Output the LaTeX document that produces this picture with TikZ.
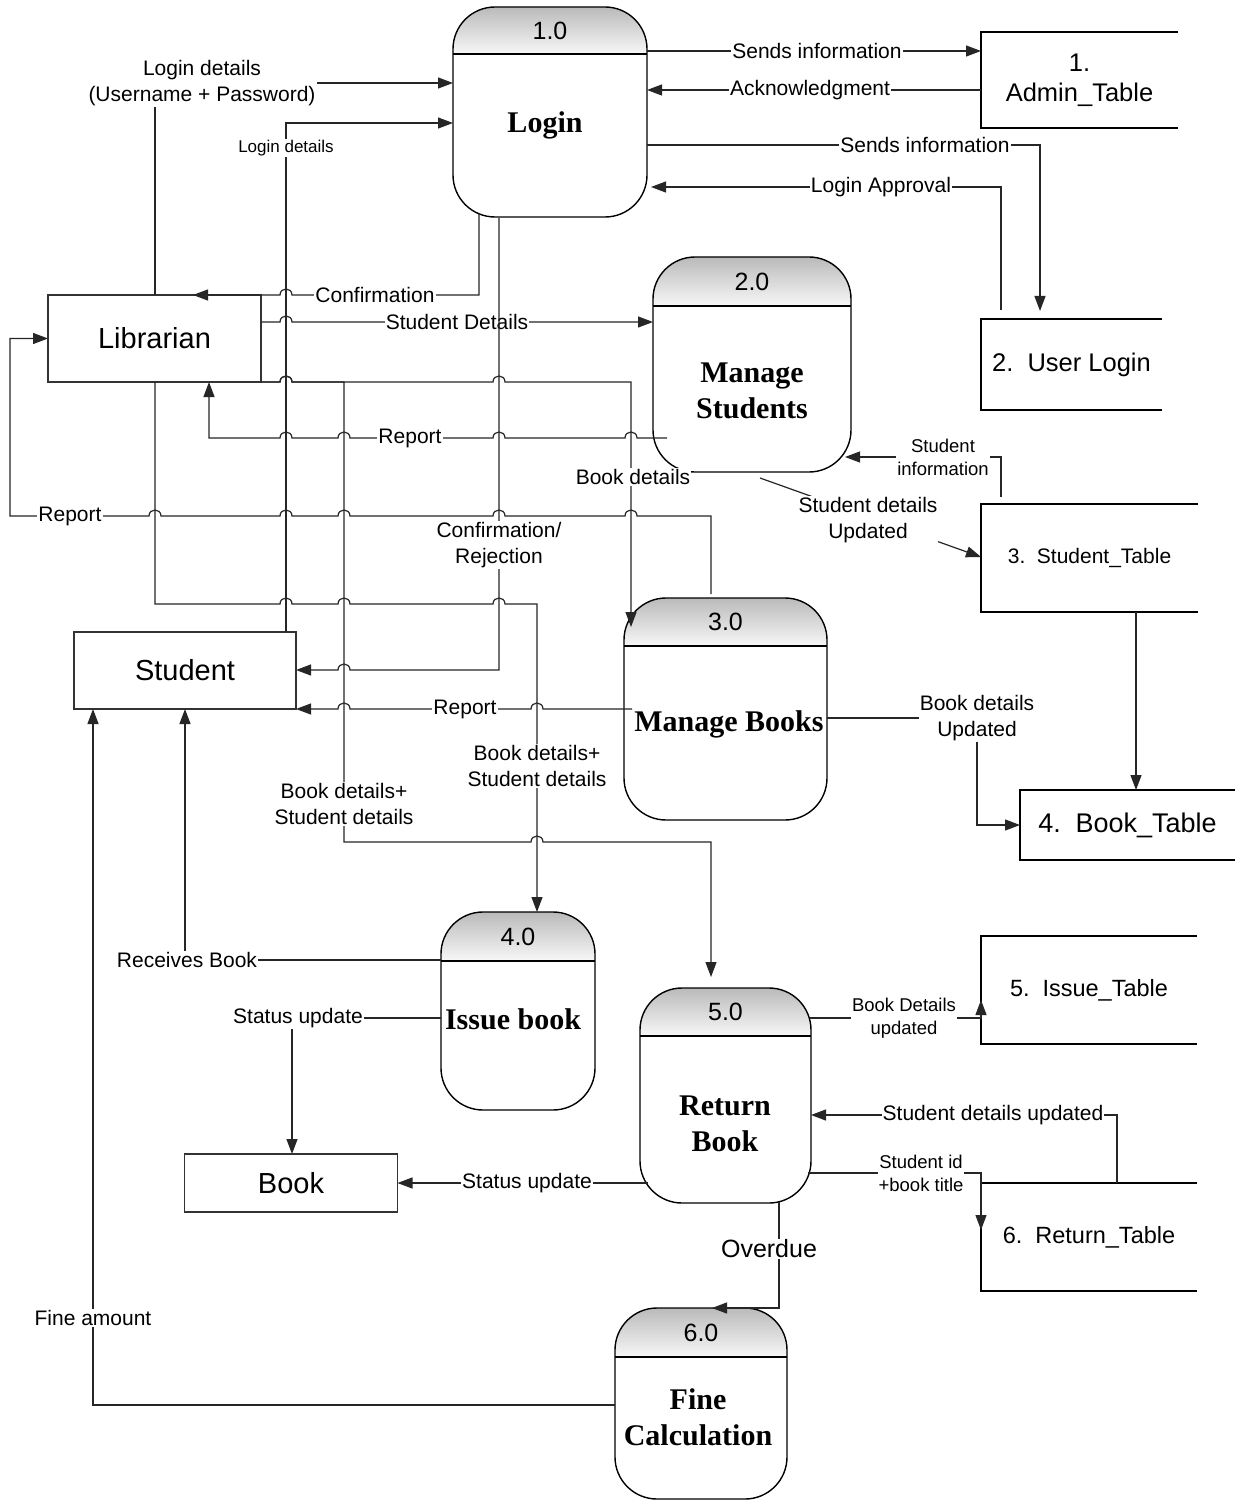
\documentclass[tikz,border=0pt]{standalone}
\usepackage{fontspec}
\setmainfont{Liberation Sans}
\newfontfamily\serifbold{Liberation Serif}
\usetikzlibrary{arrows.meta}

% line hops over a vertical line at x=#1 on a horizontal run at y=#2
\newcommand\hopR[2]{-- ({#1-6},#2) .. controls ({#1-6},{#2-8}) and ({#1+6},{#2-8}) .. ({#1+6},#2)}
\newcommand\hopL[2]{-- ({#1+6},#2) .. controls ({#1+6},{#2-8}) and ({#1-6},{#2-8}) .. ({#1-6},#2)}

\tikzset{
  x=1pt, y=-1pt,
  flow/.style={draw=black!85, line width=1.2pt, -{Triangle[length=15pt,width=11pt]}},
  lbl/.style={fill=white, inner sep=1pt, align=center, font=\fontsize{21}{26}\selectfont},
  lblsmall/.style={font=\fontsize{18.5}{23}\selectfont},
  lbltiny/.style={font=\fontsize{17}{20}\selectfont},
  procbox/.style={draw=black, line width=1.4pt, rounded corners=42pt, inner sep=0pt, outer sep=0pt},
  pnum/.style={font=\fontsize{25}{28}\selectfont, inner sep=0pt},
  ptitle/.style={font=\serifbold\bfseries\fontsize{30}{36}\selectfont, align=center, inner sep=0pt},
  entity/.style={draw=black!80, line width=1.3pt, fill=white, inner sep=0pt, outer sep=0pt, font=\fontsize{29}{33}\selectfont},
  storeline/.style={draw=black, line width=1.3pt},
  storetext/.style={inner sep=0pt, outer sep=0pt, align=center},
}

% process: name, left, top, right, bottom, header line, number
\newcommand\proc[7]{%
  \begin{scope}
    \clip[rounded corners=42pt] (#2,#3) rectangle (#4,#5);
    \shade[top color=black!27, bottom color=black!3] (#2,#3) rectangle (#4,#6);
  \end{scope}
  \node[procbox, minimum width={(#4-#2)*1pt}, minimum height={(#5-#3)*1pt}] (#1) at ({(#2+#4)/2},{(#3+#5)/2}) {};
  \draw[line width=1.4pt] (#1.west |- 0,#6) -- (#1.east |- 0,#6);
  \node[pnum] (#1-num) at ({(#2+#4)/2},{(#3+#6)/2}) {#7};
}

% data store (open on the right): name, left, top, right, bottom, font size, text
\newcommand\store[7]{%
  \node[storetext, font=\fontsize{#6}{30}\selectfont, minimum width={(#4-#2)*1pt}, minimum height={(#5-#3)*1pt}] (#1) at ({(#2+#4)/2},{(#3+#5)/2}) {#7};
  \draw[storeline] (#1.north east) -- (#1.north west) -- (#1.south west) -- (#1.south east);
}

\begin{document}
\begin{tikzpicture}
\useasboundingbox[fill=white] (0,0) rectangle (1235,1503);

% processes
\proc{login}{453}{7}{647}{217}{54}{1.0}
\proc{mstud}{653}{257}{851}{472}{306}{2.0}
\proc{mbooks}{624}{598}{827}{820}{646}{3.0}
\proc{issue}{441}{912}{595}{1110}{961}{4.0}
\proc{return}{640}{988}{811}{1203}{1036}{5.0}
\proc{fine}{615}{1308}{787}{1499}{1357}{6.0}

\node[ptitle] (login-t) at (545,125) {Login};
\node[ptitle] (mstud-t) at (752,391) {Manage\\Students};
\node[ptitle] (mbooks-t) at (729,724) {Manage Books};
\node[ptitle] (issue-t) at (513,1019) {Issue book};
\node[ptitle] (return-t) at (725,1124) {Return\\Book};
\node[ptitle] (fine-t) at (698,1417) {Fine\\Calculation};

% external entities
\node[entity, minimum width=213pt, minimum height=87pt] (lib) at (154.5,338.5) {Librarian};
\node[entity, minimum width=222pt, minimum height=77pt] (student) at (185,670.5) {Student};
\node[entity, minimum width=213pt, minimum height=58pt] (book) at (291,1183) {Book};

% data stores
\store{admin}{981}{32}{1178}{128}{25.5}{1.\\Admin\_Table}
\store{ulogin}{981}{319}{1162}{410}{25.5}{2.\hspace{0.55em}User Login}
\store{stable}{981}{504}{1198}{612}{21}{3.\hspace{0.55em}Student\_Table}
\store{btable}{1020}{790}{1235}{860}{27}{4.\hspace{0.55em}Book\_Table}
\store{itable}{981}{936}{1197}{1044}{23.5}{5.\hspace{0.55em}Issue\_Table}
\store{rtable}{981}{1183}{1197}{1291}{23.5}{6.\hspace{0.55em}Return\_Table}

% Login <-> Admin_Table
\draw[flow] (login.east |- 0,51) -- (admin.west |- 0,51);
\node[lbl] (l-send1) at (817,51) {Sends information};
\draw[flow] (admin.west |- 0,90) -- (login.east |- 0,90);
\node[lbl] (l-ack) at (810,90) {Acknowledgment};

% Login <-> User Login
\draw[flow, shorten >=8pt] (login.east |- 0,145) -| (ulogin.north -| 1040,0);
\node[lbl] (l-send2) at (925,145) {Sends information};
\draw[flow, shorten <=9pt, shorten >=4pt] (ulogin.north -| 1001,0) |- (login.east |- 0,187);
\node[lbl] (l-appr) at (881,187) {Login Approval};

% Librarian -> Login
\draw[flow] (lib.north -| 155,0) |- (login.west |- 0,83);
\node[lbl] (l-logdet) at (202,83) {Login details\\(Username + Password)};

% Student -> Login
\draw[flow] (student.north -| 286,0) |- (login.west |- 0,123);
\node[lbl, lbltiny] (l-logdet2) at (286,148) {Login details};

% Login -> Librarian
\draw[flow] (479,213) -- (479,295) \hopL{286}{295} -- (lib.north -| 193,0);
\node[lbl] (l-conf) at (375,295) {Confirmation};

% Librarian -> Manage Students
\draw[flow] (lib.east |- 0,322) \hopR{286}{322} -- (mstud.west |- 0,322);
\node[lbl] (l-sdet) at (457,322) {Student Details};

% Librarian -> Manage Books
\draw[flow] (lib.south east) \hopR{286}{382} \hopR{499}{382} -- (631,382) -- (631,627);
\node[lbl] (l-bdet) at (633,477) {Book details};

% Librarian -> Return Book
\draw[flow] (lib.south east) \hopR{286}{382} -- (344,382) -- (344,842) \hopR{537}{842} -- (711,842) -- (711,977);
\node[lbl] (l-bs2) at (344,804) {Book details+\\Student details};

% Manage Students -> Librarian
\draw[flow] (667,438) \hopL{631}{438} \hopL{499}{438} \hopL{344}{438} \hopL{286}{438} -- (209,438) -- (lib.south -| 209,0);
\node[lbl] (l-rep1) at (410,438) {Report};

% Manage Books -> Librarian
\draw[flow] (711,594) -- (711,516) \hopL{631}{516} \hopL{499}{516} \hopL{344}{516} \hopL{286}{516} \hopL{155}{516} -- (10,516) -- (10,338.5) -- (lib.west);
\node[lbl] (l-rep2) at (70,516) {Report};

% Librarian -> Issue book
\draw[flow] (lib.south -| 155,0) -- (155,604) \hopR{286}{604} \hopR{344}{604} \hopR{499}{604} -- (537,604) -- (issue.north -| 537,0);
\node[lbl] (l-bs1) at (537,766) {Book details+\\Student details};

% Login -> Student
\draw[flow] (499,218) -- (499,670) \hopL{344}{670} -- (student.east |- 0,670);
\node[lbl] (l-confrej) at (499,545) {Confirmation/\\Rejection};

% Manage Books -> Student
\draw[flow] (632,709) \hopL{537}{709} \hopL{344}{709} -- (student.south east);
\node[lbl] (l-rep3) at (465,709) {Report};

% Manage Books -> Book_Table
\draw[flow] (mbooks.east |- 0,718) -- (977,718) -- (977,825) -- (btable.west |- 0,825);
\node[lbl] (l-bupd) at (977,718) {Book details\\Updated};

% Student_Table -> Manage Students
\draw[flow] (1001,497) -- (1001,457) -- (845,457);
\node[lbl, lblsmall] (l-sinfo) at (943,457) {Student\\information};

% Manage Students -> Student_Table
\draw[flow] (760,478) -- (stable.west |- 0,557);
\node[lbl] (l-supd) at (868,520) {Student details\\Updated};

% Student_Table -> Book_Table
\draw[flow] (stable.south -| 1136,0) -- (btable.north -| 1136,0);

% Issue book -> Student
\draw[flow] (issue.west |- 0,960) -| (student.south -| 185,0);
\node[lbl] (l-recv) at (187,960) {Receives Book};

% Issue book -> Book
\draw[flow] (issue.west |- 0,1018) -| (book.north -| 292,0);
\node[lbl] (l-stat1) at (298,1018) {Status update};

% Return Book -> Book
\draw[flow] (648,1183) -- (book.east);
\node[lbl] (l-stat2) at (527,1183) {Status update};

% Return Book -> Fine Calculation
\draw[flow] (779,1202) |- (fine.north -| 712,0);
\node[lbl, font=\fontsize{25}{28}\selectfont] (l-over) at (769,1249) {Overdue};

% Fine Calculation -> Student
\draw[flow] (fine.west |- 0,1405) -| (student.south -| 93,0);
\node[lbl] (l-fine) at (93,1318) {Fine amount};

% Return Book -> Issue_Table
\draw[flow] (810,1018) -- (itable.west |- 0,1018) -- (itable.west |- 0,1000);
\node[lbl, lblsmall] (l-bdu) at (904,1018) {Book Details\\updated};

% Return_Table -> Return Book
\draw[flow] (rtable.north -| 1117,0) |- (return.east |- 0,1115);
\node[lbl] (l-sdu) at (993,1115) {Student details updated};

% Return Book -> Return_Table
\draw[flow] (808,1173) -- (rtable.west |- 0,1173) -- (rtable.west |- 0,1230);
\node[lbl, lblsmall] (l-sid) at (921,1173) {Student id\\+book title};
\end{tikzpicture}
\end{document}
